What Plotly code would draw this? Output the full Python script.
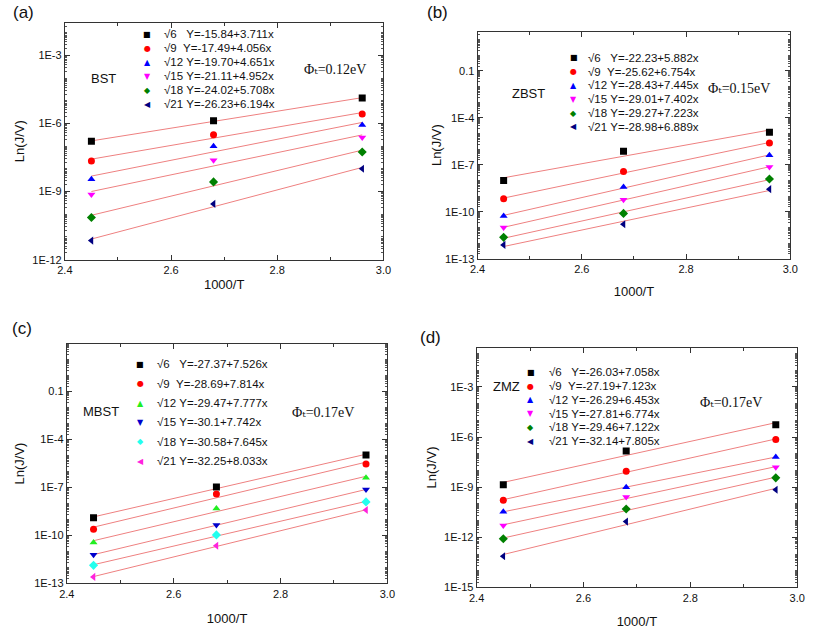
import numpy as np
import plotly.graph_objects as go

W, H = 813, 629

# ---------------- data ----------------
x_vals = [2.45, 2.68, 2.96]
fields = ["√6", "√9", "√12", "√15", "√18", "√21"]

# log10(J/V), per panel, per field (rows) at x_vals
a_logy = [[-6.78, -5.87, -4.87],
          [-7.65, -6.49, -5.58],
          [-8.45, -7.00, -6.06],
          [-9.13, -7.62, -6.61],
          [-10.14, -8.57, -7.25],
          [-11.16, -9.54, -7.99]]
b_logy = [[-8.01, -6.14, -4.93],
          [-9.18, -7.44, -5.62],
          [-10.27, -8.43, -6.40],
          [-11.01, -9.23, -7.14],
          [-11.64, -10.11, -7.91],
          [-12.12, -10.80, -8.56]]
c_logy = [[-8.90, -6.98, -4.98],
          [-9.62, -7.41, -5.54],
          [-10.44, -8.32, -6.40],
          [-11.21, -9.35, -7.14],
          [-11.87, -9.97, -7.91],
          [-12.59, -10.65, -8.42]]
d_logy = [[-8.86, -6.83, -5.26],
          [-9.78, -8.05, -6.14],
          [-10.47, -9.00, -7.19],
          [-11.30, -9.59, -7.81],
          [-12.09, -10.31, -8.44],
          [-13.13, -11.06, -9.15]]

a_eq = ["Y=-15.84+3.711x", "Y=-17.49+4.056x", "Y=-19.70+4.651x",
        "Y=-21.11+4.952x", "Y=-24.02+5.708x", "Y=-26.23+6.194x"]
b_eq = ["Y=-22.23+5.882x", "Y=-25.62+6.754x", "Y=-28.43+7.445x",
        "Y=-29.01+7.402x", "Y=-29.27+7.223x", "Y=-28.98+6.889x"]
c_eq = ["Y=-27.37+7.526x", "Y=-28.69+7.814x", "Y=-29.47+7.777x",
        "Y=-30.1+7.742x", "Y=-30.58+7.645x", "Y=-32.25+8.033x"]
d_eq = ["Y=-26.03+7.058x", "Y=-27.19+7.123x", "Y=-26.29+6.453x",
        "Y=-27.81+6.774x", "Y=-29.46+7.122x", "Y=-32.14+7.805x"]

panel_letters = ["(a)", "(b)", "(c)", "(d)"]
materials = ["BST", "ZBST", "MBST", "ZMZ"]
phi_vals = ["0.12eV", "0.15eV", "0.17eV", "0.17eV"]
x_title = "1000/T"
y_title = "Ln(J/V)"

# ---------------- styles ----------------
symbols = ["square", "circle", "triangle-up", "triangle-down", "diamond", "triangle-left"]
glyphs = ["■", "●", "▲", "▼", "◆", "◀"]
colors_std = ["#000000", "#ff0000", "#0000ff", "#ff00ff", "#008000", "#000080"]
colors_c = ["#000000", "#ff0000", "#22ee22", "#0000cc", "#22ffee", "#ff22dd"]
fit_color = "#ee8080"

FONT = "Liberation Sans, Arial, sans-serif"

def P(x, y):
    return x / W, 1 - y / H

# panel geometry in pixels: (left, right, top, bottom)
boxes = [(58, 383, 23, 263), (479, 798, 32, 262), (60, 387, 348, 591), (478, 805, 352, 595)]
yranges = [(-12, -1.55), (-13, 1.5), (-13, 1.97), (-15, -0.64)]
label_start = [-12, -13, -13, -15]
x_standoff = [5, 13, 15, 16]
y_standoff = [4, 0, 6, 4]

# legend geometry: symbol x, text x, first y, spacing
legends = [(142, 157, 34.5, 14.2), (577, 590, 58.5, 14.0), (135, 150, 369, 19.6), (533, 550, 377, 14.0)]
letter_pos = [(3, 13), (425, 13), (2, 333), (418, 342)]
mat_pos = [(83, 80), (512, 95), (74, 417), (493, 391)]
phi_pos = [(300, 70), (712, 90), (288, 418), (704, 408)]

datasets = [a_logy, b_logy, c_logy, d_logy]
equations = [a_eq, b_eq, c_eq, d_eq]

fig = go.Figure()
annotations = []

def fmt_label(e):
    if e == -1:
        return "0.1"
    return "1E%d" % e

for i in range(4):
    xa = "x" if i == 0 else "x%d" % (i + 1)
    ya = "y" if i == 0 else "y%d" % (i + 1)
    cols = colors_c if i == 2 else colors_std
    logy = datasets[i]
    for k in range(6):
        ys = np.array(logy[k])
        coef = np.polyfit(x_vals, ys, 1)
        xe = np.array([min(x_vals), max(x_vals)])
        fig.add_trace(go.Scatter(x=xe, y=10 ** np.polyval(coef, xe), mode="lines",
                                 line=dict(color=fit_color, width=1), xaxis=xa, yaxis=ya,
                                 showlegend=False, hoverinfo="skip"))
    for k in range(6):
        fig.add_trace(go.Scatter(x=x_vals, y=10 ** np.array(logy[k]), mode="markers",
                                 name=fields[k] + " " + equations[i][k],
                                 marker=dict(symbol=symbols[k], color=cols[k], size=7,
                                             line=dict(width=0)),
                                 xaxis=xa, yaxis=ya, showlegend=False))

    l, r, t, b = boxes[i]
    x0, y1 = P(l, t)
    x1, y0 = P(r, b)
    lo, hi = yranges[i]
    decs = list(range(int(np.ceil(lo)), int(np.floor(hi)) + 1))
    lab_decs = [e for e in decs if (e - label_start[i]) % 3 == 0]
    tickvals = [10.0 ** e for e in lab_decs]
    ticktext = [fmt_label(e) for e in lab_decs]
    minor_vals = [m * 10.0 ** e for e in range(decs[0] - 1, decs[-1] + 1) for m in range(1, 10)
                  if not (m == 1 and e in lab_decs)]
    axis_common = dict(showline=True, linecolor="#333333", linewidth=1, mirror="ticks",
                       ticks="inside", tickcolor="#333333", showgrid=False, zeroline=False,
                       tickfont=dict(family=FONT, size=11, color="#111111"))
    fig.layout[("xaxis" if i == 0 else "xaxis%d" % (i + 1))] = dict(
        domain=[x0, x1], anchor=ya, range=[2.4, 3.0], tick0=2.4, dtick=0.2,
        tickformat=".1f", ticklen=5,
        title=dict(text=x_title, standoff=x_standoff[i],
                   font=dict(family=FONT, size=13, color="#111111")),
        minor=dict(dtick=0.1, ticks="inside", ticklen=3, tickcolor="#333333"),
        **axis_common)
    fig.layout[("yaxis" if i == 0 else "yaxis%d" % (i + 1))] = dict(
        domain=[y0, y1], anchor=xa, type="log", range=[lo, hi],
        tickmode="array", tickvals=tickvals, ticktext=ticktext, ticklen=5,
        title=dict(text=y_title, standoff=y_standoff[i],
                   font=dict(family=FONT, size=13, color="#111111")),
        minor=dict(tickmode="array", tickvals=minor_vals, ticks="inside", ticklen=2,
                   tickcolor="#555555"),
        **axis_common)

    # panel letter
    lx, ly = P(*letter_pos[i])
    annotations.append(dict(text=panel_letters[i], x=lx, y=ly, xref="paper", yref="paper",
                            showarrow=False, xanchor="left", yanchor="middle",
                            font=dict(family=FONT, size=17, color="#111111")))
    mx, my = P(*mat_pos[i])
    annotations.append(dict(text=materials[i], x=mx, y=my, xref="paper", yref="paper",
                            showarrow=False, xanchor="left", yanchor="middle",
                            font=dict(family=FONT, size=13, color="#111111")))
    fx, fy = P(*phi_pos[i])
    annotations.append(dict(text="Φₜ=" + phi_vals[i], x=fx, y=fy, xref="paper",
                            yref="paper", showarrow=False, xanchor="left", yanchor="middle",
                            font=dict(family="Liberation Serif, DejaVu Serif, serif",
                                      size=14, color="#111111")))
    # legend
    sx, txx, y_first, dy = legends[i]
    for k in range(6):
        yy = y_first + k * dy
        gx, gy = P(sx, yy)
        annotations.append(dict(text=glyphs[k], x=gx, y=gy, xref="paper", yref="paper",
                                showarrow=False, xanchor="center", yanchor="middle",
                                font=dict(family="DejaVu Sans", size=8, color=cols[k])))
        ex, ey = P(txx, yy)
        sep = "\u00a0" * (3 if k == 0 else (2 if k == 1 else 1))
        annotations.append(dict(text=fields[k] + sep + equations[i][k], x=ex, y=ey,
                                xref="paper", yref="paper", showarrow=False,
                                xanchor="left", yanchor="middle",
                                font=dict(family=FONT, size=11.5, color="#111111")))

fig.update_layout(width=W, height=H, margin=dict(l=0, r=0, t=0, b=0),
                  paper_bgcolor="white", plot_bgcolor="white",
                  annotations=annotations, showlegend=False)

fig.write_html("out.html", config={"displayModeBar": False},
               post_script="document.body.style.margin='0';document.body.style.overflow='hidden';")
